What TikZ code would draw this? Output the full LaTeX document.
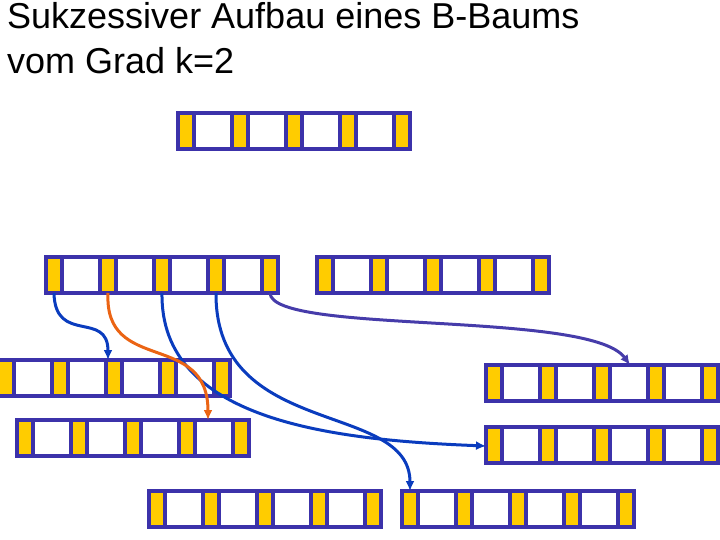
\documentclass[tikz,border=0pt]{standalone}
\usepackage{fontspec}
\setmainfont{Liberation Sans}
\usetikzlibrary{arrows.meta}
\definecolor{bframe}{RGB}{60,50,170}
\definecolor{bkey}{RGB}{255,204,0}
\definecolor{bblue}{RGB}{10,60,190}
\definecolor{borange}{RGB}{235,100,20}
\definecolor{bpurple}{RGB}{70,60,170}
\tikzset{
  ptr/.style={-{Latex[length=10pt,width=9pt]}, line width=3pt, bblue},
}
% one B-tree node: name, left x, top y (pixels)
\newcommand{\btnode}[3]{%
  \fill[white] (#2,#3) rectangle ++(230,36);
  \foreach \i in {0,...,4}{
    \fill[bkey] (#2+\i*54,#3) rectangle ++(16,36);
    \coordinate (#1-p\i) at (#2+\i*54+8,#3+36);
  }
  \foreach \i in {0,...,4}{
    \draw[bframe, line width=4pt] (#2+\i*54,#3) -- ++(0,36) (#2+\i*54+16,#3) -- ++(0,36);
  }
  \draw[bframe, line width=4pt] (#2,#3) rectangle ++(232,36);
}
\begin{document}
\begin{tikzpicture}[x=1pt,y=-1pt]
  \useasboundingbox (0,0) rectangle (720,540);
  \node[anchor=north west, align=left, font=\fontsize{36}{45}\selectfont, inner sep=0pt] (title) at (7,2) {Sukzessiver Aufbau eines B-Baums\\vom Grad k=2};

  \btnode{root}{178}{113}
  \btnode{la}{46}{257}
  \btnode{lb}{317}{257}
  \btnode{ca}{-2}{360}
  \btnode{cb}{17}{420}
  \btnode{ra}{486}{365}
  \btnode{rb}{486}{427}
  \btnode{ba}{149}{491}
  \btnode{bb}{402}{491}

  \coordinate (ca-in) at (108,360);
  \coordinate (cb-in) at (208,420);
  \coordinate (rb-in) at (486,446);
  \coordinate (bb-in) at (410,491);
  \coordinate (ra-in) at (630,365);

  \draw[ptr] (la-p0) .. controls (55,345) and (108,310) .. (ca-in);
  \draw[ptr] (la-p2) .. controls (160,420) and (330,440) .. (rb-in);
  \draw[ptr] (la-p3) .. controls (215,440) and (410,400) .. (bb-in);
  \draw[ptr, bpurple] (la-p4) .. controls (272,335) and (590,310) .. (ra-in);
  \draw[ptr, borange] (la-p1) .. controls (104,375) and (208,330) .. (cb-in);
\end{tikzpicture}
\end{document}
